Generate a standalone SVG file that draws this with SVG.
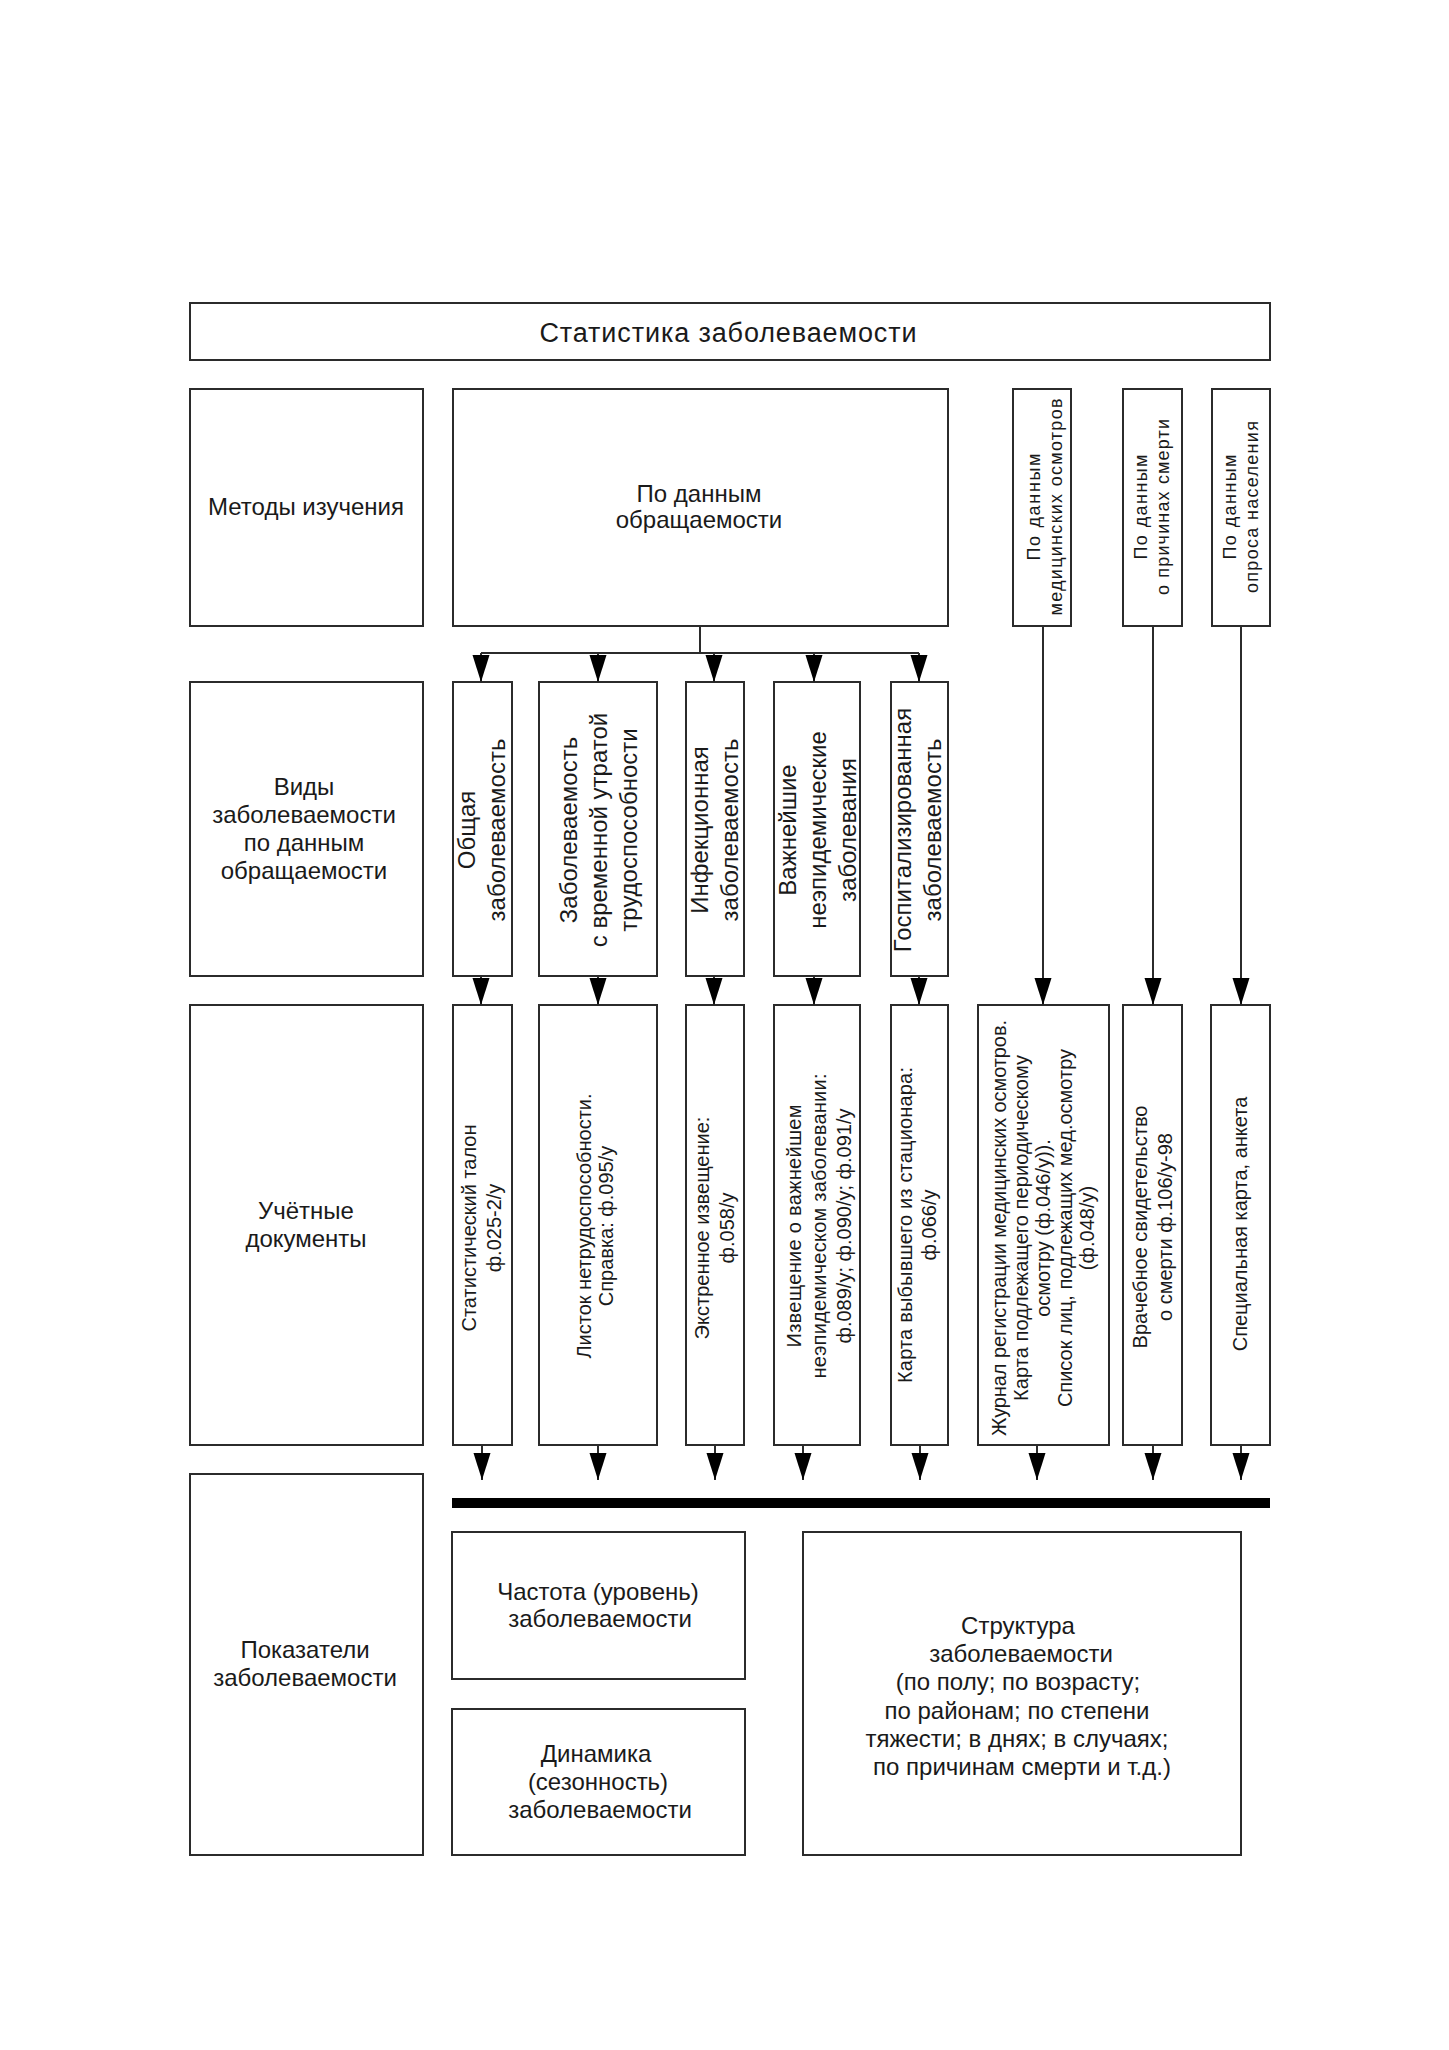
<svg xmlns="http://www.w3.org/2000/svg" width="1449" height="2050" viewBox="0 0 1449 2050">
<style>
  .box { fill: #ffffff; stroke: #2b2b2b; stroke-width: 2; }
  .t { font-family: "Liberation Sans", Arial, sans-serif; fill: #1a1a1a; }
  .h { font-size: 24px; text-anchor: middle; }
  .r1 { font-size: 18px; text-anchor: middle; }
  .r2 { font-size: 24px; text-anchor: middle; }
  .r3 { font-size: 20px; text-anchor: middle; }
  .c { fill: none; stroke: #2b2b2b; stroke-width: 2; }
  .ca { fill: none; stroke: #2b2b2b; stroke-width: 2; marker-end: url(#ah); }
</style>
<defs>
  <marker id="ah" markerUnits="userSpaceOnUse" markerWidth="28" markerHeight="18" refX="27" refY="8.5" orient="auto">
    <path d="M0,0 L27,8.5 L0,17 Z" fill="#000000"/>
  </marker>
</defs>
<rect width="1449" height="2050" fill="#ffffff"/>

<g id="title">
  <rect class="box" x="190" y="303" width="1080" height="57"/>
  <text class="t" x="728" y="342" font-size="27" text-anchor="middle" textLength="377" lengthAdjust="spacing">Статистика заболеваемости</text>
</g>

<g id="methods">
  <rect class="box" x="190" y="389" width="233" height="237"/>
  <text class="t h" x="306" y="515">Методы изучения</text>
</g>
<g id="by-appeal">
  <rect class="box" x="453" y="389" width="495" height="237"/>
  <text class="t h" x="699" y="502">По данным</text>
  <text class="t h" x="699" y="528">обращаемости</text>
</g>
<g id="by-exams">
  <rect class="box" x="1013" y="389" width="58" height="237"/>
  <text class="t r1" transform="translate(1040,507) rotate(-90)"><tspan x="0" y="0" textLength="107" lengthAdjust="spacing">По данным</tspan><tspan x="0" y="22" textLength="217" lengthAdjust="spacing">медицинских осмотров</tspan></text>
</g>
<g id="by-death">
  <rect class="box" x="1123" y="389" width="59" height="237"/>
  <text class="t r1" transform="translate(1147,507) rotate(-90)"><tspan x="0" y="0" textLength="105" lengthAdjust="spacing">По данным</tspan><tspan x="0" y="22" textLength="176" lengthAdjust="spacing">о причинах смерти</tspan></text>
</g>
<g id="by-survey">
  <rect class="box" x="1212" y="389" width="58" height="237"/>
  <text class="t r1" transform="translate(1236,507) rotate(-90)"><tspan x="0" y="0" textLength="105" lengthAdjust="spacing">По данным</tspan><tspan x="0" y="22" textLength="172" lengthAdjust="spacing">опроса населения</tspan></text>
</g>

<g id="kinds">
  <rect class="box" x="190" y="682" width="233" height="294"/>
  <text class="t h" x="304" y="795">Виды</text>
  <text class="t h" x="304" y="823">заболеваемости</text>
  <text class="t h" x="304" y="851">по данным</text>
  <text class="t h" x="304" y="879">обращаемости</text>
</g>
<g id="general">
  <rect class="box" x="453" y="682" width="59" height="294"/>
  <text class="t r2" transform="translate(475,830) rotate(-90)"><tspan x="0" y="0">Общая</tspan><tspan x="0" y="30">заболеваемость</tspan></text>
</g>
<g id="temp-disability">
  <rect class="box" x="539" y="682" width="118" height="294"/>
  <text class="t r2" transform="translate(577,830) rotate(-90)"><tspan x="0" y="0">Заболеваемость</tspan><tspan x="0" y="30">с временной утратой</tspan><tspan x="0" y="60">трудоспособности</tspan></text>
</g>
<g id="infectious">
  <rect class="box" x="686" y="682" width="58" height="294"/>
  <text class="t r2" transform="translate(708,830) rotate(-90)"><tspan x="0" y="0">Инфекционная</tspan><tspan x="0" y="30">заболеваемость</tspan></text>
</g>
<g id="non-epidemic">
  <rect class="box" x="774" y="682" width="86" height="294"/>
  <text class="t r2" transform="translate(796,830) rotate(-90)"><tspan x="0" y="0">Важнейшие</tspan><tspan x="0" y="30">неэпидемические</tspan><tspan x="0" y="60">заболевания</tspan></text>
</g>
<g id="hospital">
  <rect class="box" x="891" y="682" width="57" height="294"/>
  <text class="t r2" transform="translate(911,830) rotate(-90)"><tspan x="0" y="0">Госпитализированная</tspan><tspan x="0" y="30">заболеваемость</tspan></text>
</g>

<g id="documents">
  <rect class="box" x="190" y="1005" width="233" height="440"/>
  <text class="t h" x="306" y="1219">Учётные</text>
  <text class="t h" x="306" y="1247">документы</text>
</g>
<g id="doc-talon">
  <rect class="box" x="453" y="1005" width="59" height="440"/>
  <text class="t r3" transform="translate(476,1228) rotate(-90)"><tspan x="0" y="0">Статистический талон</tspan><tspan x="0" y="25">ф.025-2/у</tspan></text>
</g>
<g id="doc-sick">
  <rect class="box" x="539" y="1005" width="118" height="440"/>
  <text class="t r3" transform="translate(591,1226) rotate(-90)"><tspan x="0" y="0">Листок нетрудоспособности.</tspan><tspan x="0" y="22">Справка: ф.095/у</tspan></text>
</g>
<g id="doc-emergency">
  <rect class="box" x="686" y="1005" width="58" height="440"/>
  <text class="t r3" transform="translate(709,1228) rotate(-90)"><tspan x="0" y="0">Экстренное извещение:</tspan><tspan x="0" y="25">ф.058/у</tspan></text>
</g>
<g id="doc-notice">
  <rect class="box" x="774" y="1005" width="86" height="440"/>
  <text class="t r3" transform="translate(801,1226) rotate(-90)"><tspan x="0" y="0" textLength="243" lengthAdjust="spacing">Извещение о важнейшем</tspan><tspan x="0" y="25" textLength="305" lengthAdjust="spacing">неэпидемическом заболевании:</tspan><tspan x="0" y="50">ф.089/у; ф.090/у; ф.091/у</tspan></text>
</g>
<g id="doc-discharge">
  <rect class="box" x="891" y="1005" width="57" height="440"/>
  <text class="t r3" transform="translate(912,1225) rotate(-90)"><tspan x="0" y="0" textLength="316" lengthAdjust="spacing">Карта выбывшего из стационара:</tspan><tspan x="0" y="24">ф.066/у</tspan></text>
</g>
<g id="doc-journal">
  <rect class="box" x="978" y="1005" width="131" height="440"/>
  <text class="t r3" transform="translate(1006,1228) rotate(-90)"><tspan x="0" y="0" textLength="416" lengthAdjust="spacing">Журнал регистрации медицинских осмотров.</tspan><tspan x="0" y="22" textLength="346" lengthAdjust="spacing">Карта подлежащего периодическому</tspan><tspan x="0" y="44">осмотру (ф.046/у)).</tspan><tspan x="0" y="66">Список лиц, подлежащих мед.осмотру</tspan><tspan x="0" y="88">(ф.048/у)</tspan></text>
</g>
<g id="doc-death">
  <rect class="box" x="1123" y="1005" width="59" height="440"/>
  <text class="t r3" transform="translate(1147,1227) rotate(-90)"><tspan x="0" y="0">Врачебное свидетельство</tspan><tspan x="0" y="25">о смерти ф.106/у-98</tspan></text>
</g>
<g id="doc-survey">
  <rect class="box" x="1211" y="1005" width="59" height="440"/>
  <text class="t r3" transform="translate(1247,1224) rotate(-90)"><tspan x="0" y="0">Специальная карта, анкета</tspan></text>
</g>

<g id="indicators">
  <rect class="box" x="190" y="1474" width="233" height="381"/>
  <text class="t h" x="305" y="1658">Показатели</text>
  <text class="t h" x="305" y="1686">заболеваемости</text>
</g>
<g id="frequency">
  <rect class="box" x="452" y="1532" width="293" height="147"/>
  <text class="t h" x="598" y="1600">Частота (уровень)</text>
  <text class="t h" x="600" y="1627">заболеваемости</text>
</g>
<g id="dynamics">
  <rect class="box" x="452" y="1709" width="293" height="146"/>
  <text class="t h" x="596" y="1762">Динамика</text>
  <text class="t h" x="598" y="1790">(сезонность)</text>
  <text class="t h" x="600" y="1818">заболеваемости</text>
</g>
<g id="structure">
  <rect class="box" x="803" y="1532" width="438" height="323"/>
  <text class="t h" x="1018" y="1634">Структура</text>
  <text class="t h" x="1021" y="1662">заболеваемости</text>
  <text class="t h" x="1018" y="1690">(по полу; по возрасту;</text>
  <text class="t h" x="1017" y="1719">по районам; по степени</text>
  <text class="t h" x="1017" y="1747">тяжести; в днях; в случаях;</text>
  <text class="t h" x="1022" y="1775">по причинам смерти и т.д.)</text>
</g>

<g id="connectors">
  <path class="c" d="M700,626 V653 M481,653 H919"/>
  <path class="ca" d="M481,653 V682"/>
  <path class="ca" d="M598,653 V682"/>
  <path class="ca" d="M714,653 V682"/>
  <path class="ca" d="M814,653 V682"/>
  <path class="ca" d="M919,653 V682"/>
  <path class="ca" d="M481,976 V1005"/>
  <path class="ca" d="M598,976 V1005"/>
  <path class="ca" d="M714,976 V1005"/>
  <path class="ca" d="M814,976 V1005"/>
  <path class="ca" d="M919,976 V1005"/>
  <path class="ca" d="M1043,626 V1005"/>
  <path class="ca" d="M1153,626 V1005"/>
  <path class="ca" d="M1241,626 V1005"/>
  <path class="ca" d="M482,1445 V1480"/>
  <path class="ca" d="M598,1445 V1480"/>
  <path class="ca" d="M715,1445 V1480"/>
  <path class="ca" d="M803,1445 V1480"/>
  <path class="ca" d="M920,1445 V1480"/>
  <path class="ca" d="M1037,1445 V1480"/>
  <path class="ca" d="M1153,1445 V1480"/>
  <path class="ca" d="M1241,1445 V1480"/>
  <rect x="452" y="1498" width="818" height="10" fill="#000000"/>
</g>
</svg>
